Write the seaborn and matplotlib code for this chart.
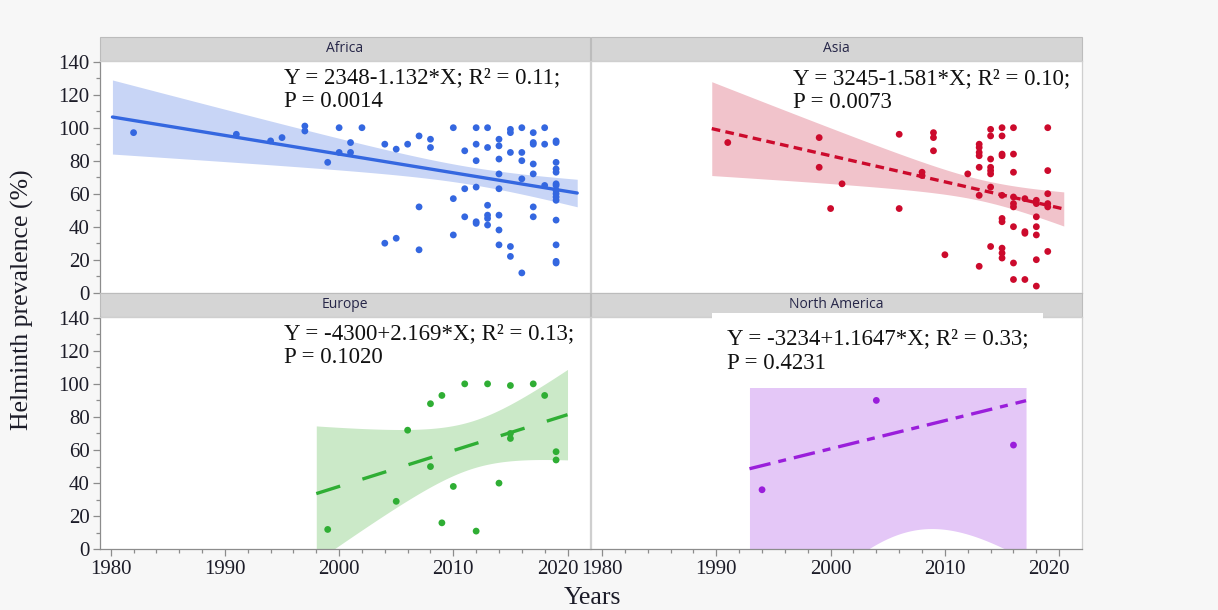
import numpy as np
import pandas as pd
import matplotlib
matplotlib.use("Agg")
import matplotlib.pyplot as plt
import seaborn as sns
from math import lgamma, pi, exp
from matplotlib.patches import Rectangle
from matplotlib.ticker import MultipleLocator
from matplotlib.transforms import ScaledTranslation

# ---------------- data: publication year vs. helminth prevalence (%) ----------------
africa_year = [1982, 1991, 1994, 1995, 1997, 1997, 1999, 2000, 2000, 2001, 2001, 2002,
               2004, 2004, 2005, 2005, 2006, 2007, 2007, 2007, 2008, 2008,
               2010, 2010, 2010, 2011, 2011, 2011,
               2012, 2012, 2012, 2012, 2012, 2012,
               2013, 2013, 2013, 2013, 2013, 2013,
               2014, 2014, 2014, 2014, 2014, 2014, 2014, 2014,
               2015, 2015, 2015, 2015, 2015,
               2016, 2016, 2016, 2016, 2016,
               2017, 2017, 2017, 2017, 2017, 2017, 2017,
               2018, 2018, 2018,
               2019, 2019, 2019, 2019, 2019, 2019, 2019, 2019, 2019, 2019, 2019, 2019, 2019,
               2019, 2019]
africa_prev = [97, 96, 92, 94, 101, 98, 79, 100, 85, 91, 85, 100,
               90, 30, 87, 33, 90, 95, 52, 26, 93, 88,
               100, 57, 35, 86, 63, 46,
               100, 90, 80, 64, 43, 42,
               100, 88, 53, 47, 45, 41,
               93, 89, 81, 72, 63, 47, 38, 29,
               99, 97, 85, 28, 22,
               100, 85, 80, 69, 12,
               97, 91, 90, 78, 72, 52, 46,
               100, 90, 65,
               92, 91, 79, 75, 73, 66, 65, 62, 60, 58, 56, 44, 29,
               19, 18]

asia_year = [1991, 1999, 1999, 2000, 2001, 2006, 2006, 2008, 2008, 2009, 2009, 2009,
             2010, 2012,
             2013, 2013, 2013, 2013, 2013, 2013, 2013,
             2014, 2014, 2014, 2014, 2014, 2014, 2014, 2014,
             2015, 2015, 2015, 2015, 2015, 2015, 2015, 2015, 2015, 2015,
             2016, 2016, 2016, 2016, 2016, 2016, 2016, 2016, 2016,
             2017, 2017, 2017, 2017,
             2018, 2018, 2018, 2018, 2018, 2018, 2018,
             2019, 2019, 2019, 2019, 2019, 2019]
asia_prev = [91, 94, 76, 51, 66, 96, 51, 73, 71, 97, 94, 86,
             23, 72,
             90, 88, 85, 83, 76, 59, 16,
             99, 95, 81, 76, 74, 72, 64, 28,
             100, 95, 84, 83, 59, 45, 43, 27, 24, 21,
             100, 84, 73, 58, 54, 52, 40, 18, 8,
             57, 37, 36, 8,
             56, 54, 46, 40, 35, 20, 4,
             100, 74, 60, 54, 52, 25]

europe_year = [1999, 2005, 2006, 2008, 2008, 2009, 2009, 2010, 2011, 2012, 2013, 2014,
               2015, 2015, 2015, 2017, 2018, 2019, 2019]
europe_prev = [12, 29, 72, 88, 50, 93, 16, 38, 100, 11, 100, 40,
               99, 70, 67, 100, 93, 59, 54]

namerica_year = [1994, 2004, 2013, 2016]
namerica_prev = [36, 90, 100, 63]

regions = ["Africa", "Asia", "Europe", "North America"]
years = [africa_year, asia_year, europe_year, namerica_year]
prevalence = [africa_prev, asia_prev, europe_prev, namerica_prev]

# printed fit equations (intercept, slope); the North America label has a misprinted
# slope, so that line is refitted from its points
fit_intercept = [2348, 3245, -4300, None]
fit_slope = [-1.132, -1.581, 2.169, None]

fit_labels = ["Y = 2348-1.132*X; R² = 0.11;\nP = 0.0014",
              "Y = 3245-1.581*X; R² = 0.10;\nP = 0.0073",
              "Y = -4300+2.169*X; R² = 0.13;\nP = 0.1020",
              "Y = -3234+1.1647*X; R² = 0.33;\nP = 0.4231"]

x_ticks = [1980, 1990, 2000, 2010, 2020]
y_ticks = [0, 20, 40, 60, 80, 100, 120, 140]

# ---------------- styling ----------------
point_colors = ["#3467e0", "#cc0a2c", "#2fae34", "#9a1edb"]
band_colors = ["#c8d5f6", "#f1c3cb", "#cbe9c8", "#e4c7f7"]
line_styles = ["-", (0, (2.6, 1.6)), (0, (7.5, 7.0)), (0, (6.5, 2.4, 2.4, 2.4))]
label_backing = [False, False, False, True]


def t_quantile(p, df):
    """Quantile of Student's t distribution by integrating its density."""
    grid = np.linspace(0.0, 60.0, 300001)
    c = exp(lgamma((df + 1) / 2) - lgamma(df / 2)) / np.sqrt(df * pi)
    pdf = c * (1 + grid ** 2 / df) ** (-(df + 1) / 2)
    cdf = 0.5 + np.concatenate([[0.0], np.cumsum((pdf[1:] + pdf[:-1]) / 2 * np.diff(grid))])
    return float(np.interp(p, cdf, grid))


sns.set_theme(style="white")
plt.rcParams["font.family"] = ["Liberation Serif", "DejaVu Serif"]

W, H = 1218, 610
fig = plt.figure(figsize=(W / 100, H / 100), dpi=100, facecolor="#f7f7f7")

# panel rectangles in pixels: left, top, right, bottom
frames = [(100, 60.7, 590, 292.7), (591.3, 60.7, 1081.7, 292.7),
          (100, 316.7, 590, 549.3), (591.3, 316.7, 1081.7, 549.3)]
strip_px = 23.6

tick_color = "#1c1c28"
axis_gray = "#8c8c8c"
frame_gray = "#cfcfcf"

for i, region in enumerate(regions):
    l, t, r, b = frames[i]
    ax = fig.add_axes([l / W, 1 - b / H, (r - l) / W, (b - t) / H])
    ax.set_facecolor("white")
    col, row = i % 2, i // 2

    df = pd.DataFrame({"Years": years[i], "Prevalence": prevalence[i]})
    x = df["Years"].to_numpy(float)
    y = df["Prevalence"].to_numpy(float)

    if fit_intercept[i] is None:
        slope, intercept = np.polyfit(x, y, 1)
    else:
        slope, intercept = fit_slope[i], fit_intercept[i]

    # regression line over the data range plus 5% either side, with 95% confidence band
    span = x.max() - x.min()
    xs = np.linspace(x.min() - 0.05 * span, x.max() + 0.05 * span, 300)
    yhat = intercept + slope * xs
    n = len(x)
    resid = y - (intercept + slope * x)
    s = np.sqrt(np.sum(resid ** 2) / (n - 2))
    sxx = np.sum((x - x.mean()) ** 2)
    half = t_quantile(0.975, n - 2) * s * np.sqrt(1 / n + (xs - x.mean()) ** 2 / sxx)
    ax.fill_between(xs, yhat - half, yhat + half, color=band_colors[i], lw=0, zorder=1)

    sns.scatterplot(data=df, x="Years", y="Prevalence", color=point_colors[i], s=24,
                    edgecolor="none", linewidth=0, ax=ax, zorder=3)
    sns.lineplot(x=xs, y=yhat, color=point_colors[i], lw=2.4, linestyle=line_styles[i],
                 ax=ax, zorder=4)

    ax.set_xlim(1979.06, 2021.97)
    ax.set_ylim(0, 140.6)
    ax.set_xticks(x_ticks)
    ax.set_yticks(y_ticks)
    ax.xaxis.set_minor_locator(MultipleLocator(2))
    ax.yaxis.set_minor_locator(MultipleLocator(10))
    ax.set_xlabel("")
    ax.set_ylabel("")

    ax.tick_params(which="both", direction="out", color=axis_gray, width=0.9,
                   labelsize=15, labelcolor=tick_color,
                   bottom=(row == 1), labelbottom=(row == 1),
                   left=(col == 0), labelleft=(col == 0),
                   top=False, right=False)
    ax.tick_params(which="major", length=5, pad=2.5)
    ax.tick_params(which="minor", length=3)

    for side, sp in ax.spines.items():
        sp.set_visible(True)
        sp.set_linewidth(0.9)
        sp.set_color(frame_gray)
    if col == 0:
        ax.spines["left"].set_color(axis_gray)
    if row == 1:
        ax.spines["bottom"].set_color(axis_gray)

    # grey strip with the region name above the panel
    h = strip_px / (b - t)
    ax.add_patch(Rectangle((0, 1), 1, h, transform=ax.transAxes, facecolor="#d5d5d5",
                           edgecolor="#bcbcbc", lw=0.8, clip_on=False, zorder=0.5))
    ax.text(0.5, 1 + h / 2, region, transform=ax.transAxes, ha="center", va="center",
            fontsize=10, family=["Open Sans", "DejaVu Sans"], color="#262648")

    # fitted equation
    label_pos = [(0.376, 0.973), (0.412, 0.969), (0.376, 0.973), (0.276, 0.950)][i]
    bbox = dict(facecolor="white", edgecolor="none", boxstyle="square,pad=0.65") \
        if label_backing[i] else None
    ax.text(label_pos[0], label_pos[1], fit_labels[i], transform=ax.transAxes,
            ha="left", va="top", fontsize=16.5, color="#111111", linespacing=1.2,
            bbox=bbox, zorder=6, clip_on=False)

    # last year label nudged left so neighbouring panels' labels do not collide
    if row == 1:
        lab = ax.xaxis.get_major_ticks()[-1].label1
        lab.set_transform(lab.get_transform() + ScaledTranslation(-0.10, 0, fig.dpi_scale_trans))

fig.text(592 / W, 1 - 598 / H, "Years", ha="center", va="center", fontsize=18.5,
         color=tick_color)
fig.text(22 / W, 1 - 300 / H, "Helminth prevalence (%)", ha="center", va="center",
         rotation=90, fontsize=18.5, color=tick_color)

fig.savefig("out.png", dpi=100, facecolor=fig.get_facecolor())
